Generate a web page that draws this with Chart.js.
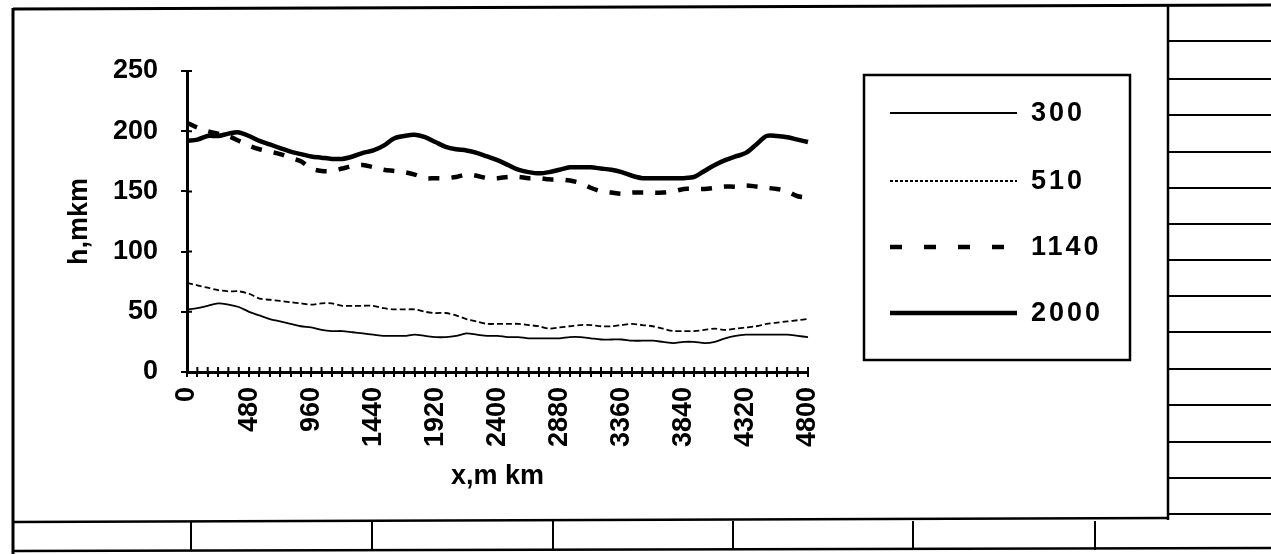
<!DOCTYPE html>
<html>
<head>
<meta charset="utf-8">
<script src="https://cdn.jsdelivr.net/npm/chart.js"></script>
<style>
  html, body { margin: 0; padding: 0; background: #fff; }
  canvas { display: block; }
</style>
</head>
<body>
<canvas id="chart" width="1271" height="554"></canvas>
<script>
// x positions along the sample (categories, every 80)
const xCats = ['0', '80', '160', '240', '320', '400', '480', '560', '640', '720', '800', '880',
  '960', '1040', '1120', '1200', '1280', '1360', '1440', '1520', '1600', '1680', '1760', '1840',
  '1920', '2000', '2080', '2160', '2240', '2320', '2400', '2480', '2560', '2640', '2720', '2800',
  '2880', '2960', '3040', '3120', '3200', '3280', '3360', '3440', '3520', '3600', '3680', '3760',
  '3840', '3920', '4000', '4080', '4160', '4240', '4320', '4400', '4480', '4560', '4640', '4720', '4800'];

// only these categories get a label
const tickLabels = ['0', '480', '960', '1440', '1920', '2400', '2880', '3360', '3840', '4320', '4800'];

const seriesNames = ['300', '510', '1140', '2000'];

const h300 = [52, 53, 55, 57, 56, 54, 50, 47, 44, 42, 40, 38, 37, 35, 34, 34, 33, 32, 31, 30,
  30, 30, 31, 30, 29, 29, 30, 32, 31, 30, 30, 29, 29, 28, 28, 28, 28, 29, 29, 28,
  27, 27, 27, 26, 26, 26, 25, 24, 25, 25, 24, 25, 28, 30, 31, 31, 31, 31, 31, 30, 29];

const h510 = [74, 72, 70, 68, 67, 67, 65, 61, 60, 59, 58, 57, 56, 57, 57, 55, 55, 55, 55, 53,
  52, 52, 52, 50, 49, 49, 47, 44, 42, 40, 40, 40, 40, 39, 38, 36, 37, 38, 39, 39,
  38, 38, 39, 40, 39, 38, 36, 34, 34, 34, 35, 36, 35, 36, 37, 38, 40, 41, 42, 43, 44];

const h1140 = [207, 203, 200, 198, 196, 192, 188, 185, 183, 181, 178, 175, 169, 167, 167, 169, 171, 172, 170, 168,
  167, 166, 164, 161, 161, 161, 162, 164, 163, 161, 161, 162, 162, 161, 161, 160, 160, 159, 157, 153,
  150, 149, 148, 149, 149, 149, 149, 150, 152, 152, 152, 153, 154, 154, 155, 154, 153, 152, 150, 146, 145];

const h2000 = [192, 193, 196, 196, 198, 199, 196, 192, 189, 186, 183, 181, 179, 178, 177, 177, 179, 182, 184, 188,
  194, 196, 197, 195, 191, 187, 185, 184, 182, 179, 176, 172, 168, 166, 165, 166, 168, 170, 170, 170,
  169, 168, 166, 163, 161, 161, 161, 161, 161, 162, 167, 172, 176, 179, 182, 189, 196, 196, 195, 193, 191];

const yTicks = [0, 50, 100, 150, 200, 250];

const FONT = { family: "'Liberation Sans', Arial, sans-serif", size: 27, weight: 'bold' };
const INK = '#000';

// legend samples are drawn a bit differently than the plot lines (like the original)
const legendDash = [[], [3, 2], [12, 22], []];

// spreadsheet cells and chart frame around the plot
const sheetGrid = {
  id: 'sheetGrid',
  beforeDraw(chart) {
    const ctx = chart.ctx;
    ctx.save();
    ctx.fillStyle = '#fff';
    ctx.fillRect(0, 0, chart.width, chart.height);
    ctx.strokeStyle = INK;
    const line = (x1, y1, x2, y2, w) => {
      ctx.lineWidth = w;
      ctx.beginPath();
      ctx.moveTo(x1, y1);
      ctx.lineTo(x2, y2);
      ctx.stroke();
    };
    // chart frame
    line(13, 9, 1271, 5, 3);
    line(13, 8, 13, 554, 3);
    line(1168, 6, 1168, 520, 2.5);
    line(13, 522, 1168, 518, 2.5);
    // right column cells
    [41, 79, 115, 152, 188, 224, 260, 296, 332, 369, 405, 442, 478, 514].forEach(y => line(1168, y, 1271, y, 2));
    // bottom row cells
    line(13, 551, 1271, 548, 2.5);
    [191, 372, 553, 733, 913, 1095].forEach(x => line(x, 521, x, 550, 2));
    ctx.restore();
  }
};

// Excel style "cross" tick marks: inner half of every tick
const crossTicks = {
  id: 'crossTicks',
  afterDatasetsDraw(chart) {
    const ctx = chart.ctx;
    const xs = chart.scales.x, ys = chart.scales.y;
    ctx.save();
    ctx.strokeStyle = INK;
    ctx.lineWidth = 2;
    ctx.beginPath();
    xs.ticks.forEach((t, i) => {
      const px = xs.getPixelForTick(i);
      ctx.moveTo(px, xs.top);
      ctx.lineTo(px, xs.top - 5);
    });
    ys.ticks.forEach((t, i) => {
      const py = ys.getPixelForTick(i);
      ctx.moveTo(ys.right, py);
      ctx.lineTo(ys.right + 5, py);
    });
    ctx.stroke();
    ctx.restore();
  }
};

// boxed legend to the right of the plot
const boxLegend = {
  id: 'boxLegend',
  afterDraw(chart) {
    const ctx = chart.ctx;
    ctx.save();
    ctx.strokeStyle = INK;
    ctx.lineWidth = 2.5;
    ctx.strokeRect(864, 75, 266, 285);
    const rows = [113, 181, 247, 313];
    ctx.font = `${FONT.weight} ${FONT.size}px ${FONT.family}`;
    ctx.letterSpacing = '3px';
    ctx.textBaseline = 'middle';
    ctx.fillStyle = INK;
    chart.data.datasets.forEach((ds, i) => {
      ctx.lineWidth = ds.borderWidth;
      ctx.setLineDash(legendDash[i]);
      ctx.beginPath();
      ctx.moveTo(890, rows[i]);
      ctx.lineTo(1017, rows[i]);
      ctx.stroke();
      ctx.setLineDash([]);
      ctx.fillText(ds.label, 1031, rows[i] + 1);
    });
    ctx.restore();
  }
};

const lineDs = (label, data, width, dash) => ({
  label,
  data,
  borderColor: INK,
  backgroundColor: INK,
  borderWidth: width,
  borderDash: dash,
  pointRadius: 0,
  tension: 0.3,
  fill: false
});

new Chart(document.getElementById('chart'), {
  type: 'line',
  data: {
    labels: xCats,
    datasets: [
      lineDs(seriesNames[0], h300, 1.8, []),
      lineDs(seriesNames[1], h510, 1.8, [6, 3]),
      lineDs(seriesNames[2], h1140, 4.5, [11, 12]),
      lineDs(seriesNames[3], h2000, 4.5, [])
    ]
  },
  options: {
    responsive: false,
    animation: false,
    layout: { padding: { left: 55, top: 71, right: 463, bottom: 40 } },
    plugins: { legend: { display: false }, tooltip: { enabled: false } },
    scales: {
      x: {
        type: 'category',
        offset: false,
        grid: { drawOnChartArea: false, tickLength: 5, lineWidth: 2, color: INK, offset: false },
        border: { color: INK, width: 3 },
        ticks: {
          autoSkip: false,
          minRotation: 90,
          maxRotation: 90,
          padding: 10,
          color: INK,
          font: FONT,
          callback(v) {
            const lbl = this.getLabelForValue(v);
            return tickLabels.includes(lbl) ? lbl : '';
          }
        },
        title: { display: true, text: 'x,m km', color: INK, font: FONT, padding: 21 },
        afterFit(s) { s.height = 142; }
      },
      y: {
        min: yTicks[0],
        max: yTicks[yTicks.length - 1],
        grid: { drawOnChartArea: false, tickLength: 6, lineWidth: 2, color: INK },
        border: { color: INK, width: 3 },
        ticks: { stepSize: 50, padding: 23, color: INK, font: FONT },
        title: { display: true, text: 'h,mkm', color: INK, font: FONT, padding: 8 },
        afterFit(s) { s.width = 132; }
      }
    }
  },
  plugins: [sheetGrid, crossTicks, boxLegend]
});
</script>
</body>
</html>
